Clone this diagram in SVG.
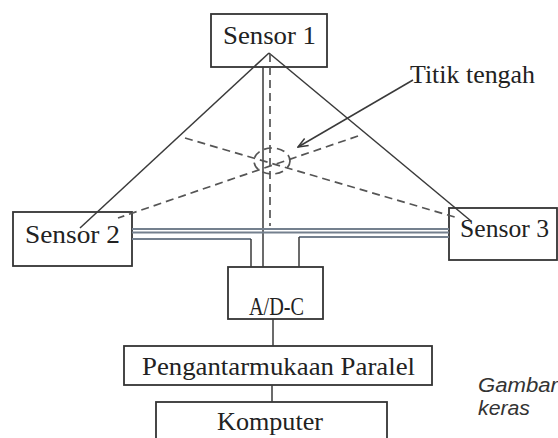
<svg xmlns="http://www.w3.org/2000/svg" width="558" height="438" viewBox="0 0 558 438">
<style>
.box{fill:#fff;stroke:#333;stroke-width:1.8}
.t{font-family:"Liberation Serif","Times New Roman",serif;font-size:26px;fill:#222}
.ln{stroke:#3a3a3a;stroke-width:1.5;fill:none}
.bl{stroke:#74808e;stroke-width:1.8;fill:none}
.ds{stroke:#555;stroke-width:1.7;fill:none;stroke-dasharray:8 5}
.cap{font-family:"Liberation Sans",Arial,sans-serif;font-style:italic;font-size:20px;fill:#333}
</style>
<defs>
<marker id="arr" viewBox="0 0 12 10" refX="11" refY="5" markerWidth="12" markerHeight="10" markerUnits="userSpaceOnUse" orient="auto">
<path d="M1,1 L11,5 L1,9" fill="none" stroke="#3a3a3a" stroke-width="1.5"/>
</marker>
</defs>
<rect width="558" height="438" fill="#fff"/>
<g id="sensor1"><rect class="box" x="211" y="14" width="116" height="53"/><text class="t" x="223" y="44" textLength="93" lengthAdjust="spacingAndGlyphs">Sensor 1</text></g>
<g id="sensor2"><rect class="box" x="13" y="212" width="119" height="54"/><text class="t" x="25" y="243" textLength="95" lengthAdjust="spacingAndGlyphs">Sensor 2</text></g>
<g id="sensor3"><rect class="box" x="449" y="208" width="108" height="52"/><text class="t" x="460" y="237" textLength="89" lengthAdjust="spacingAndGlyphs">Sensor 3</text></g>
<g id="adc"><rect class="box" x="228" y="267" width="95" height="52"/><text class="t" x="249" y="315" font-size="24" textLength="55" lengthAdjust="spacingAndGlyphs">A/D-C</text></g>
<g id="paralel"><rect class="box" x="124" y="346" width="308" height="39"/><text class="t" x="142" y="375" textLength="273" lengthAdjust="spacingAndGlyphs">Pengantarmukaan Paralel</text></g>
<g id="komputer"><rect class="box" x="156" y="402" width="231" height="44"/><text class="t" x="217" y="430" textLength="106" lengthAdjust="spacingAndGlyphs">Komputer</text></g>
<g id="titik"><text class="t" x="410" y="83" textLength="125" lengthAdjust="spacingAndGlyphs">Titik tengah</text></g>
<g id="caption"><text class="cap" x="478" y="392" textLength="80" lengthAdjust="spacingAndGlyphs">Gambar</text><text class="cap" x="478" y="415" textLength="52" lengthAdjust="spacingAndGlyphs">keras</text></g>
<g id="connectors">
<path class="ln" d="M269,53 L80,228"/>
<path class="ln" d="M269,53 L471,221"/>
<path class="ds" d="M270,54 L270,226"/>
<path class="ln" d="M263,67 L263,267"/>
<path class="ds" d="M185,138 L458,218"/>
<path class="ds" d="M358,136 L118,218"/>
<ellipse class="ds" cx="272" cy="161" rx="18" ry="13" stroke-dasharray="6 4"/>
<path class="bl" d="M132,229 L449,229"/>
<path class="bl" d="M132,232.5 L449,232.5"/>
<path class="bl" d="M132,239 L251,239"/>
<path class="ln" d="M251,239 L251,267"/>
<path class="bl" d="M449,237 L299,237"/>
<path class="ln" d="M299,237 L299,267"/>
<path class="ln" d="M273,319 L273,346"/>
<path class="ln" d="M272,385 L272,402"/>
<path class="ln" d="M413,80 L298,147" marker-end="url(#arr)"/>
</g>
</svg>
